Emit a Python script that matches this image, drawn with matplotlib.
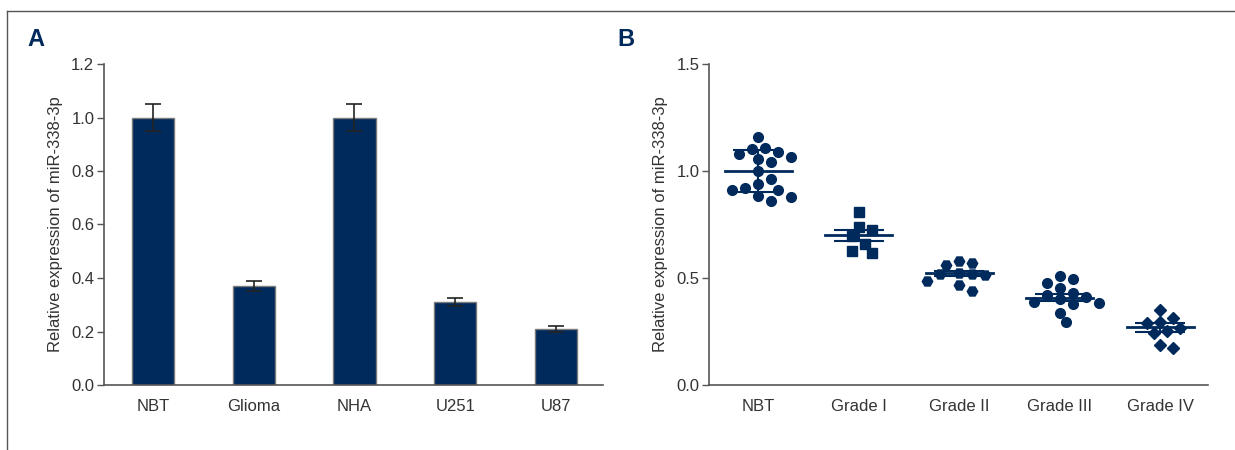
import numpy as np
import matplotlib
matplotlib.use("Agg")
import matplotlib.pyplot as plt
from matplotlib import font_manager

## Police étroite si dispo
noms = set(f.name for f in font_manager.fontManager.ttflist)
if "Liberation Sans Narrow" in noms:
    plt.rcParams["font.family"] = ["Liberation Sans Narrow", "DejaVu Sans"]
else:
    plt.rcParams["font.family"] = ["Liberation Sans", "DejaVu Sans"]

## Données panneau A
cells = ["NBT", "Glioma", "NHA", "U251", "U87"]
cell_mean = [1.00, 0.37, 1.00, 0.31, 0.21]
cell_err = [0.05, 0.02, 0.05, 0.015, 0.01]

## Données panneau B
grades = ["NBT", "Grade I", "Grade II", "Grade III", "Grade IV"]
nbt_vals = [1.160, 1.090, 1.109, 1.101, 1.081, 1.067, 1.056, 1.041, 1.000,
            0.961, 0.939, 0.922, 0.911, 0.911, 0.883, 0.880, 0.860]
grade1_vals = [0.810, 0.740, 0.723, 0.698, 0.660, 0.628, 0.618]
grade2_vals = [0.572, 0.581, 0.561, 0.522, 0.519, 0.513, 0.517, 0.486,
               0.467, 0.439]
grade3_vals = [0.495, 0.511, 0.475, 0.455, 0.431, 0.420, 0.402, 0.413,
               0.379, 0.386, 0.385, 0.338, 0.296]
grade4_vals = [0.350, 0.311, 0.288, 0.293, 0.251, 0.245, 0.265, 0.174,
               0.187]
grade_mean = [1.00, 0.70, 0.522, 0.408, 0.270]
grade_err = [0.097, 0.025, 0.012, 0.017, 0.02]

navy = "#002a5c"
gris = "#555555"
texte = "#333333"

fig = plt.figure(figsize=(12.35, 4.5), dpi=100)

## Cadre (trait en haut et à gauche)
fig.add_artist(plt.Line2D([7/1235, 1], [1-11/450, 1-11/450], color=gris, lw=1))
fig.add_artist(plt.Line2D([7/1235, 7/1235], [0, 1-11/450], color=gris, lw=1))


def style_axes(ax):
    for s in ["top", "right"]:
        ax.spines[s].set_visible(False)
    for s in ["left", "bottom"]:
        ax.spines[s].set_color(gris)
        ax.spines[s].set_linewidth(1.2)
    ax.tick_params(axis="y", direction="out", length=5, color=gris,
                   labelsize=12, labelcolor=texte, width=1, pad=2)
    ax.tick_params(axis="x", length=0, labelsize=12, labelcolor=texte, pad=10)


## Panneau A
axA = fig.add_axes([104/1235, 65/450, 499/1235, 321/450])
xa = np.arange(len(cells))
axA.bar(xa, cell_mean, width=0.42, color=navy, edgecolor="#7a7a7a", lw=1,
        yerr=cell_err, capsize=6, error_kw=dict(ecolor="#222222", elinewidth=1.2, capthick=1.2))
axA.set_xlim(-0.486, 4.467)
axA.set_ylim(0, 1.2)
axA.set_yticks(np.arange(0, 1.21, 0.2))
axA.set_yticklabels(["%.1f" % v for v in np.arange(0, 1.21, 0.2)])
axA.set_xticks(xa)
axA.set_xticklabels(cells)
axA.set_ylabel("Relative expression of miR-338-3p", fontsize=12, color=texte, labelpad=6)
style_axes(axA)

## Panneau B
axB = fig.add_axes([709/1235, 65/450, 499/1235, 321/450])
xlim_b = (-0.49, 4.475)
ylim_b = (0, 1.5)
axB.set_xlim(*xlim_b)
axB.set_ylim(*ylim_b)
px_x = 499 / (xlim_b[1] - xlim_b[0])
px_y = 321 / (ylim_b[1] - ylim_b[0])


def essaim(vals, diam, pas):
    ## placement type beeswarm (en pixels)
    ordre = np.argsort(vals)[::-1]
    places = []
    xs = np.zeros(len(vals))
    for i in ordre:
        y = vals[i] * px_y
        for k in range(0, 40):
            cands = [0.0] if k == 0 else [k * pas, -k * pas]
            ok = None
            for c in cands:
                if all((c - px) ** 2 + (y - py) ** 2 >= diam ** 2 for px, py in places):
                    ok = c
                    break
            if ok is not None:
                break
        places.append((ok, y))
        xs[i] = ok / px_x
    return xs


groupes = [nbt_vals, grade1_vals, grade2_vals, grade3_vals, grade4_vals]
marqueurs = ["o", "s", "H", "o", "D"]
tailles = [7, 7, 7.5, 7, 6.5]
for i, (vals, m, t) in enumerate(zip(groupes, marqueurs, tailles)):
    off = essaim(vals, 11, 6.5)
    axB.plot(i + off, vals, ls="none", marker=m, ms=t, color=navy, mec=navy, zorder=3)
    axB.plot([i - 0.335, i + 0.335], [grade_mean[i]] * 2, color=navy, lw=2, zorder=4)
    axB.errorbar(i, grade_mean[i], yerr=grade_err[i], fmt="none", ecolor=navy,
                 elinewidth=1.5, capsize=18, capthick=1.5, zorder=4)

axB.set_yticks([0, 0.5, 1.0, 1.5])
axB.set_yticklabels(["0.0", "0.5", "1.0", "1.5"])
axB.set_xticks(range(len(grades)))
axB.set_xticklabels(grades)
axB.set_ylabel("Relative expression of miR-338-3p", fontsize=12, color=texte, labelpad=6)
style_axes(axB)

## Lettres des panneaux
fig.text(27/1235, 1-40/450, "A", fontsize=17, fontweight="bold", color=navy,
         family=["Liberation Sans", "DejaVu Sans"], va="center")
fig.text(617/1235, 1-40/450, "B", fontsize=17, fontweight="bold", color=navy,
         family=["Liberation Sans", "DejaVu Sans"], va="center")

plt.savefig("out.png", dpi=100)
